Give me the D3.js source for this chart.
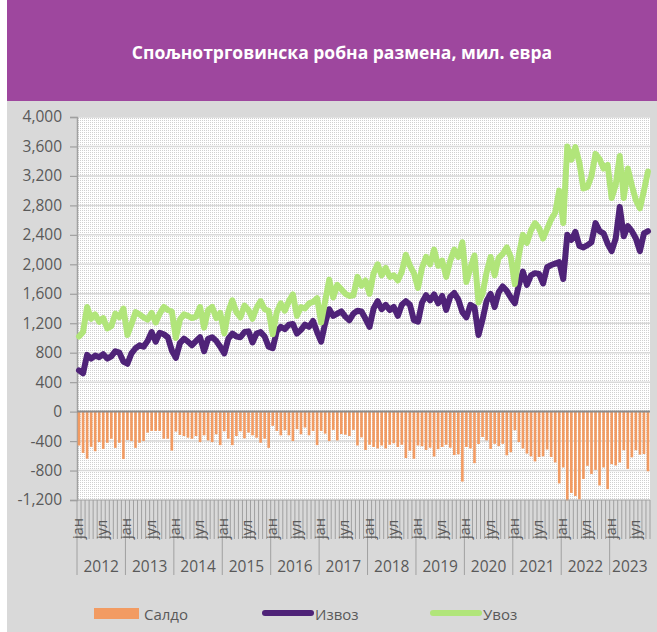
<!DOCTYPE html>
<html><head><meta charset="utf-8">
<script src="https://cdn.jsdelivr.net/npm/d3@7"></script>
<style>body{margin:0;background:#fff}svg{display:block}</style>
</head><body>
<script>
// ---- data (mil. EUR, monthly, Jan 2012 – Oct 2023) ----
const years = [2012,2013,2014,2015,2016,2017,2018,2019,2020,2021,2022,2023];
const monthLabels = {0:"јан", 6:"јул"};
const exportVals = [
  560, 520, 770, 720, 760, 740, 780, 720, 750, 820, 800, 680,
  650, 790, 860, 900, 880, 960,1080, 950,1070,1050,1010, 830,
  730, 930, 990, 950, 900, 960,1010, 820, 990,1010, 960, 880,
  790, 990,1060,1020,1010,1080,1090, 940,1060,1080,1020, 880,
  860,1090,1150,1120,1180,1190,1060,1110,1180,1150,1230,1080,
  950,1200,1390,1300,1330,1360,1290,1240,1330,1370,1360,1260,
 1150,1400,1500,1390,1450,1380,1420,1300,1450,1500,1450,1240,
 1220,1480,1580,1510,1590,1470,1570,1380,1560,1610,1520,1350,
 1280,1450,1420,1040,1250,1500,1600,1420,1620,1700,1640,1550,
 1470,1720,1900,1720,1850,1880,1870,1740,1960,1990,2010,2030,
 1800,2400,2330,2440,2250,2230,2260,2300,2560,2450,2420,2280,
 2180,2350,2780,2380,2520,2450,2350,2180,2420,2450
];
const importVals = [
 1020,1080,1420,1260,1320,1220,1270,1130,1160,1330,1280,1400,
 1040,1190,1350,1320,1280,1250,1340,1210,1330,1420,1380,1360,
 1000,1250,1320,1300,1270,1290,1420,1140,1380,1420,1270,1340,
 1060,1360,1510,1350,1280,1440,1380,1260,1410,1500,1390,1370,
 1050,1350,1470,1370,1500,1590,1300,1420,1400,1470,1490,1540,
 1210,1500,1790,1550,1720,1660,1600,1570,1580,1830,1710,1780,
 1600,1880,2000,1850,1950,1830,1850,1780,1900,2130,1980,1880,
 1680,1950,2100,2000,2200,1980,2050,1830,2050,2200,2100,2300,
 1760,1950,2120,1480,1600,1890,2100,1850,2090,2140,2230,2100,
 1730,2130,2400,2290,2460,2560,2490,2350,2480,2610,2700,3000,
 2560,3600,3420,3590,3380,3030,3050,3200,3500,3430,3300,3350,
 2900,3080,3470,2900,3300,3070,2870,2760,3000,3260
];
const balanceVals = [
 -460,-561,-639,-478,-538,-414,-506,-423,-368,-492,-423,-644,
 -386,-400,-492,-423,-400,-285,-262,-262,-262,-368,-368,-529,
 -271,-317,-331,-354,-368,-331,-414,-322,-391,-414,-308,-455,
 -267,-368,-455,-331,-267,-363,-285,-322,-354,-423,-368,-492,
 -193,-262,-322,-253,-322,-400,-239,-308,-216,-322,-262,-455,
 -262,-299,-400,-248,-391,-304,-313,-331,-248,-460,-350,-520,
 -450,-480,-500,-460,-500,-450,-430,-480,-450,-630,-530,-640,
 -460,-470,-520,-490,-610,-510,-480,-450,-490,-590,-580,-950,
 -480,-500,-700,-440,-345,-391,-506,-437,-469,-437,-593,-552,
 -253,-414,-501,-570,-607,-676,-616,-607,-515,-616,-690,-975,
 -759,-1205,-1104,-1145,-1191,-915,-736,-846,-791,-1003,-759,-1053,
 -713,-731,-690,-524,-777,-621,-524,-584,-575,-810
];
const yTicks = [-1200,-800,-400,0,400,800,1200,1600,2000,2400,2800,3200,3600,4000];
const seriesNames = ["Салдо","Извоз","Увоз"];
const title = "Спољнотрговинска робна размена, мил. евра";

// ---- layout ----
const W = 657, H = 632;
const P = {l:77, r:650, t:117, b:500};
const C = {bar:"#F29B62", exp:"#4F2378", imp:"#B1E57A", text:"#595959", axis:"#a0a0a0"};
const FONT = "'Open Sans', 'Noto Sans', sans-serif";

const svg = d3.select("body").append("svg").attr("width",W).attr("height",H);
const defs = svg.append("defs");
const pat = defs.append("pattern").attr("id","dots").attr("width",2).attr("height",2).attr("patternUnits","userSpaceOnUse");
pat.append("rect").attr("width",2).attr("height",2).attr("fill","#fff");
pat.append("rect").attr("width",1).attr("height",1).attr("fill","#d0d0d0");

svg.append("rect").attr("x",7).attr("y",0).attr("width",W-7).attr("height",H).attr("fill","#d9d9d9");
svg.append("rect").attr("x",7).attr("y",0).attr("width",W-7).attr("height",101).attr("fill","#9E479E");
svg.append("text").attr("x",342).attr("y",52).attr("text-anchor","middle").attr("dominant-baseline","central")
  .attr("fill","#fff").attr("font-family",FONT).attr("font-weight","bold").attr("font-size",17.5).text(title);

const n = exportVals.length;
const idx = d3.range(n);
const x = d3.scaleBand().domain(idx).range([P.l, P.r]).paddingInner(0.35).paddingOuter(0.175);
const xc = i => x(i) + x.bandwidth()/2;
const step = x.step();
const y = d3.scaleLinear().domain([-1200,4000]).range([P.b, P.t]);

svg.append("rect").attr("x",P.l).attr("y",P.t).attr("width",P.r-P.l).attr("height",P.b-P.t).attr("fill","url(#dots)");

// gridlines
svg.append("g").selectAll("line").data(yTicks.filter(v=>v!==0 && v!==-1200)).join("line")
  .attr("x1",P.l).attr("x2",P.r).attr("y1",d=>y(d)).attr("y2",d=>y(d))
  .attr("stroke","#d9d9d9").attr("stroke-width",1.5);

// y axis
const yAxis = svg.append("g").attr("transform",`translate(${P.l},0)`)
  .call(d3.axisLeft(y).tickValues(yTicks).tickSize(7).tickPadding(8)
    .tickFormat(v => d3.format(",")(v).replace("−","-")));
yAxis.select(".domain").attr("stroke",C.axis).attr("stroke-width",1.5);
yAxis.selectAll(".tick line").attr("stroke",C.axis).attr("stroke-width",1.2);
yAxis.selectAll(".tick text").attr("fill",C.text).attr("font-family",FONT).attr("font-size",15.5);

// bars
svg.append("g").selectAll("rect").data(idx).join("rect")
  .attr("x",i=>x(i)).attr("width",x.bandwidth())
  .attr("y",i=>y(Math.max(0,balanceVals[i]))).attr("height",i=>Math.abs(y(balanceVals[i])-y(0)))
  .attr("fill",C.bar);

// zero line
svg.append("line").attr("x1",P.l).attr("x2",P.r).attr("y1",y(0)).attr("y2",y(0))
  .attr("stroke","#8c8c8c").attr("stroke-width",2);

// lines
const line = vals => d3.line().x(i=>xc(i)).y(i=>y(vals[i]))(idx);
svg.append("path").attr("d",line(exportVals)).attr("fill","none").attr("stroke",C.exp)
  .attr("stroke-width",6).attr("stroke-linejoin","round").attr("stroke-linecap","round");
svg.append("path").attr("d",line(importVals)).attr("fill","none").attr("stroke",C.imp)
  .attr("stroke-width",6).attr("stroke-linejoin","round").attr("stroke-linecap","round");

// x axis: month ticks, labels, year separators
const xg = svg.append("g");
xg.append("line").attr("x1",P.l).attr("x2",P.r).attr("y1",P.b).attr("y2",P.b).attr("stroke",C.axis).attr("stroke-width",1.2);
xg.selectAll("line.mt").data(d3.range(n+1)).join("line").attr("class","mt")
  .attr("x1",i=>P.l+i*step).attr("x2",i=>P.l+i*step).attr("y1",P.b).attr("y2",d=>d%12===0?575:539)
  .attr("stroke",C.axis).attr("stroke-width",1);
xg.selectAll("text.ml").data(idx.filter(i=>monthLabels[i%12])).join("text").attr("class","ml")
  .attr("transform",i=>`translate(${xc(i)+4},539) rotate(-90)`)
  .attr("fill",C.text).attr("font-family",FONT).attr("font-size",14.5).text(i=>monthLabels[i%12]);
xg.selectAll("text.yr").data(years).join("text").attr("class","yr")
  .attr("x",(d,k)=>{const s=P.l+k*12*step; const e=Math.min(P.r, s+12*step); return (s+e)/2;})
  .attr("y",566).attr("text-anchor","middle").attr("dominant-baseline","central")
  .attr("fill",C.text).attr("font-family",FONT).attr("font-size",15.5).text(d=>d);

// legend
const lg = svg.append("g").attr("font-family",FONT).attr("font-size",15).attr("fill",C.text);
lg.append("rect").attr("x",94).attr("y",608).attr("width",45).attr("height",11).attr("fill",C.bar);
lg.append("text").attr("x",144).attr("y",614).attr("dominant-baseline","central").text(seriesNames[0]);
lg.append("line").attr("x1",265).attr("x2",311).attr("y1",613).attr("y2",613).attr("stroke",C.exp).attr("stroke-width",6).attr("stroke-linecap","round");
lg.append("text").attr("x",315).attr("y",614).attr("dominant-baseline","central").text(seriesNames[1]);
lg.append("line").attr("x1",433).attr("x2",479).attr("y1",613).attr("y2",613).attr("stroke",C.imp).attr("stroke-width",6).attr("stroke-linecap","round");
lg.append("text").attr("x",483).attr("y",614).attr("dominant-baseline","central").text(seriesNames[2]);
</script>
</body></html>
